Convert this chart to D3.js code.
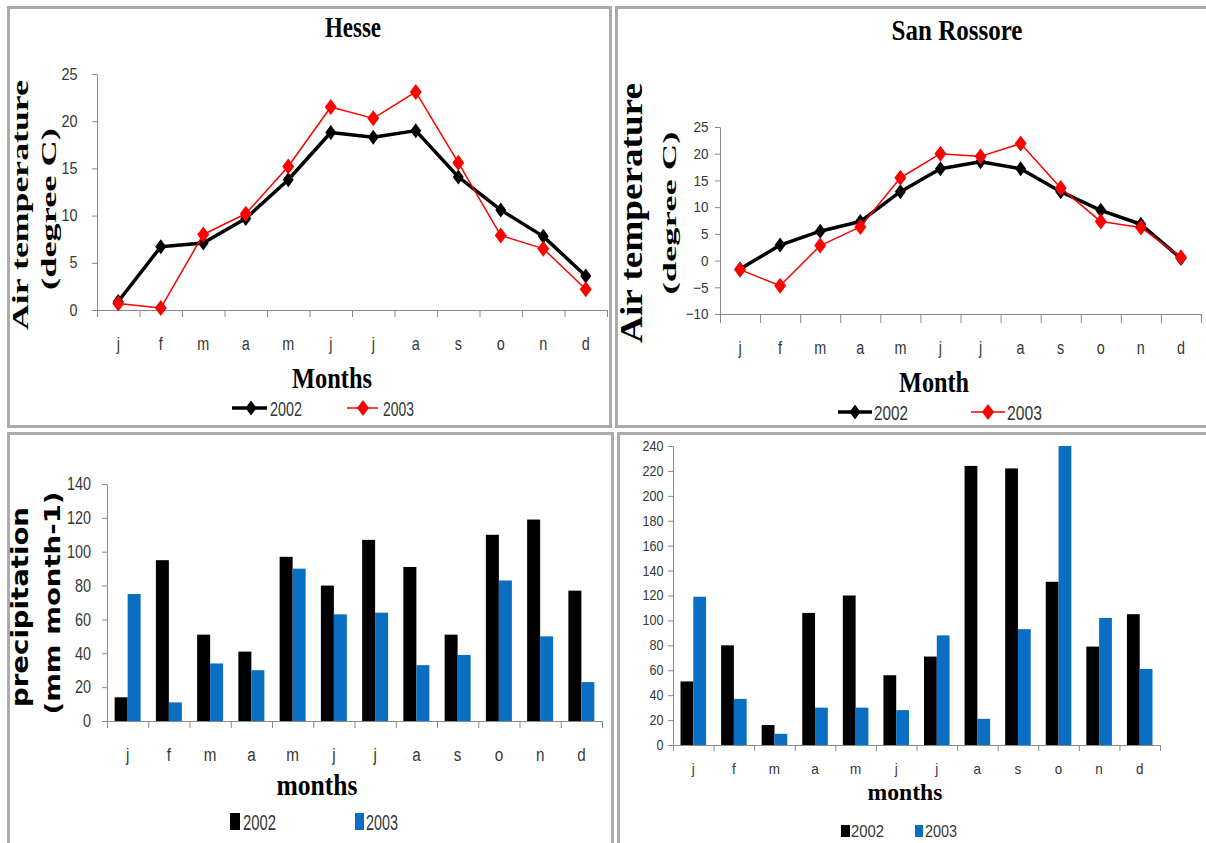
<!DOCTYPE html>
<html>
<head>
<meta charset="utf-8">
<script src="https://cdn.jsdelivr.net/npm/d3@7"></script>
<style>
  body { margin: 0; background: #fff; }
  svg { display: block; }
</style>
</head>
<body>
<div id="fig"></div>
<script>
// ---------------- data ----------------
var months = ["j", "f", "m", "a", "m", "j", "j", "a", "s", "o", "n", "d"];
var years = ["2002", "2003"];

// air temperature (degree C)
var hesseTemp2002 = [0.9, 6.7, 7.1, 9.7, 13.8, 18.8, 18.3, 19.0, 14.1, 10.6, 7.8, 3.6];
var hesseTemp2003 = [0.7, 0.2, 8.0, 10.2, 15.2, 21.5, 20.3, 23.1, 15.6, 7.9, 6.5, 2.2];
var sanRossoreTemp2002 = [-1.6, 2.9, 5.5, 7.3, 12.9, 17.2, 18.5, 17.2, 12.9, 9.4, 6.8, 0.4];
var sanRossoreTemp2003 = [-1.7, -4.7, 2.8, 6.3, 15.5, 20.0, 19.5, 21.9, 13.6, 7.3, 6.2, 0.6];

// precipitation (mm month-1)
var hessePrecip2002 = [14, 95, 51, 41, 97, 80, 107, 91, 51, 110, 119, 77];
var hessePrecip2003 = [75, 11, 34, 30, 90, 63, 64, 33, 39, 83, 50, 23];
var sanRossorePrecip2002 = [51, 80, 16, 106, 120, 56, 71, 224, 222, 131, 79, 105];
var sanRossorePrecip2003 = [119, 37, 9, 30, 30, 28, 88, 21, 93, 240, 102, 61];

// axis ticks
var hesseTempTicks = [0, 5, 10, 15, 20, 25];
var sanRossoreTempTicks = [-10, -5, 0, 5, 10, 15, 20, 25];
var hessePrecipTicks = [0, 20, 40, 60, 80, 100, 120, 140];
var sanRossorePrecipTicks = [0, 20, 40, 60, 80, 100, 120, 140, 160, 180, 200, 220, 240];

// ---------------- setup ----------------
var textColor = "#363636";
var axisColor = "#8a8a8a";
var blue = "#0a6fc2";
var serif = "'Liberation Serif', 'Times New Roman', serif";
var sans = "'Liberation Sans', Arial, sans-serif";

var svg = d3.select("#fig").append("svg")
    .attr("width", 1206)
    .attr("height", 843);

svg.append("rect").attr("width", 1206).attr("height", 843).attr("fill", "#fff");

// gray panel frames
[[8.5, 7.5, 602, 419], [616.5, 7.5, 600, 419], [8.5, 433.5, 604, 420], [618.5, 433.5, 600, 420]]
    .forEach(function (f) {
        svg.append("rect")
            .attr("x", f[0]).attr("y", f[1]).attr("width", f[2]).attr("height", f[3])
            .attr("fill", "none").attr("stroke", "#ababab").attr("stroke-width", 3);
    });

// text helper: squeezes glyphs horizontally like the (compressed) original figure
function label(parent, str, o) {
    var t = parent.append("text").text(str)
        .attr("font-family", o.family || serif)
        .attr("font-weight", o.weight || "bold")
        .attr("font-size", o.size)
        .attr("fill", o.fill || "#000")
        .attr("text-anchor", o.anchor || "middle");
    if (o.rotate) {
        // fit the text length, then squeeze glyph height (screen x)
        var natural = t.node().getComputedTextLength();
        t.attr("font-size", o.size * o.length / natural);
        t.attr("transform", "translate(" + o.x + "," + o.y + ") rotate(-90) scale(1," + o.squeeze + ")");
    } else {
        var sx = o.width ? o.width / t.node().getComputedTextLength() : (o.squeeze || 1);
        t.attr("transform", "translate(" + o.x + "," + o.y + ") scale(" + sx + ",1)");
    }
    return t;
}

function styleAxis(sel, size, sx) {
    sel.select(".domain").attr("stroke", axisColor);
    sel.selectAll(".tick line").attr("stroke", axisColor);
    sel.selectAll(".tick text")
        .attr("font-family", sans)
        .attr("font-size", size)
        .attr("fill", textColor)
        .attr("transform", "scale(" + sx + ",1)");
}

// shared axes for both chart types
function drawAxes(g, o, x, y) {
    var edges = d3.scaleLinear().domain([0, 12]).range([o.left, o.right]);

    g.append("g")
        .attr("transform", "translate(" + o.left + ",0)")
        .call(d3.axisLeft(y).tickValues(o.ticks).tickSize(5).tickSizeOuter(0).tickPadding(o.yPad / o.ySx))
        .call(styleAxis, o.ySize, o.ySx);

    g.append("g")
        .attr("transform", "translate(0," + o.bottom + ")")
        .call(d3.axisBottom(edges).tickValues(d3.range(13)).tickSize(o.xTick).tickSizeOuter(0).tickFormat(""))
        .call(styleAxis, o.xSize, 1);

    var lab = g.append("g")
        .attr("transform", "translate(0," + o.bottom + ")")
        .call(d3.axisBottom(x).tickSize(0).tickPadding(o.xPad).tickFormat(function (i) { return months[i]; }))
        .call(styleAxis, o.xSize, o.xSx);
    lab.select(".domain").remove();
}

function diamond(w, h) {
    return "M0," + (-h) + "L" + w + ",0L0," + h + "L" + (-w) + ",0Z";
}

// ---------------- line charts ----------------
function lineChart(o) {
    var g = svg.append("g");
    var x = d3.scaleBand().domain(d3.range(12)).range([o.left, o.right]);
    var y = d3.scaleLinear().domain(o.domain).range([o.bottom, o.top]);
    drawAxes(g, o, x, y);

    var line = d3.line()
        .x(function (d, i) { return x(i) + x.bandwidth() / 2; })
        .y(function (d) { return y(d); });

    var series = [
        { values: o.s2002, color: "#000", width: 3.5, mark: diamond(5.5, 7.5) },
        { values: o.s2003, color: "#ff0000", width: 1.5, mark: diamond(6, 8) }
    ];
    series.forEach(function (s) {
        g.append("path").datum(s.values)
            .attr("d", line)
            .attr("fill", "none")
            .attr("stroke", s.color)
            .attr("stroke-width", s.width)
            .attr("stroke-linejoin", "round");
        g.selectAll(null).data(s.values).enter().append("path")
            .attr("d", s.mark)
            .attr("fill", s.color)
            .attr("transform", function (d, i) {
                return "translate(" + (x(i) + x.bandwidth() / 2) + "," + y(d) + ")";
            });
    });

    // legend
    o.legend.forEach(function (l, k) {
        var s = series[k];
        g.append("line")
            .attr("x1", l.x0).attr("x2", l.x1).attr("y1", o.legendY).attr("y2", o.legendY)
            .attr("stroke", s.color).attr("stroke-width", s.width);
        g.append("path").attr("d", s.mark).attr("fill", s.color)
            .attr("transform", "translate(" + l.mark + "," + o.legendY + ")");
        label(g, years[k], { x: l.text, y: o.legendY + 8, size: 20, family: sans, weight: "normal",
            fill: textColor, anchor: "start", width: l.width });
    });
    return g;
}

// ---------------- bar charts ----------------
function barChart(o) {
    var g = svg.append("g");
    var x = d3.scaleBand().domain(d3.range(12)).range([o.left, o.right]);
    var pair = x.bandwidth() * 0.63;
    var x1 = d3.scaleBand().domain(years).range([0, pair]);
    var y = d3.scaleLinear().domain(o.domain).range([o.bottom, o.top]);

    var rows = months.map(function (m, i) {
        return [{ year: "2002", i: i, v: o.s2002[i] }, { year: "2003", i: i, v: o.s2003[i] }];
    });
    var color = d3.scaleOrdinal().domain(years).range(["#000", blue]);

    g.selectAll(".grp").data(rows).enter().append("g")
        .attr("transform", function (d, i) {
            return "translate(" + (x(i) + (x.bandwidth() - pair) / 2) + ",0)";
        })
        .selectAll("rect").data(function (d) { return d; }).enter().append("rect")
        .attr("x", function (d) { return x1(d.year); })
        .attr("width", x1.bandwidth())
        .attr("y", function (d) { return y(d.v); })
        .attr("height", function (d) { return y(0) - y(d.v); })
        .attr("fill", function (d) { return color(d.year); });

    drawAxes(g, o, x, y);

    o.legend.forEach(function (l, k) {
        g.append("rect")
            .attr("x", l.rect).attr("y", o.legendY - l.h).attr("width", l.w).attr("height", l.h)
            .attr("fill", color(years[k]));
        label(g, years[k], { x: l.text, y: o.legendY, size: o.legendSize, family: sans, weight: "normal",
            fill: textColor, anchor: "start", width: l.width });
    });
    return g;
}

// ---------------- panels ----------------
var gA = lineChart({
    left: 97, right: 607, top: 74, bottom: 310, domain: [0, 25], ticks: hesseTempTicks,
    s2002: hesseTemp2002, s2003: hesseTemp2003,
    yPad: 15, ySize: 16, ySx: 0.9, xTick: 7, xPad: 27, xSize: 18, xSx: 0.8,
    legendY: 408,
    legend: [{ x0: 232, x1: 267, mark: 251, text: 270, width: 32 },
             { x0: 347, x1: 378, mark: 363, text: 383, width: 31 }]
});
label(gA, "Hesse", { x: 353, y: 37, size: 30, width: 56 });
label(gA, "Months", { x: 332, y: 388, size: 30, width: 80 });
label(gA, "Air temperature", { x: 28, y: 205, size: 35, rotate: true, length: 250, squeeze: 0.67 });
label(gA, "(degree C)", { x: 56, y: 209, size: 35, rotate: true, length: 162, squeeze: 0.55 });

var gB = lineChart({
    left: 720, right: 1201, top: 127, bottom: 314, domain: [-10, 25], ticks: sanRossoreTempTicks,
    s2002: sanRossoreTemp2002, s2003: sanRossoreTemp2003,
    yPad: 7, ySize: 15, ySx: 0.9, xTick: 9, xPad: 27, xSize: 18, xSx: 0.8,
    legendY: 412,
    legend: [{ x0: 838, x1: 872, mark: 855, text: 874, width: 34 },
             { x0: 971, x1: 1005, mark: 988, text: 1007, width: 35 }]
});
label(gB, "San Rossore", { x: 957, y: 40, size: 30, width: 131 });
label(gB, "Month", { x: 934, y: 392, size: 30, width: 70 });
label(gB, "Air temperature", { x: 642, y: 213, size: 36, rotate: true, length: 260, squeeze: 0.83 });
label(gB, "(degree C)", { x: 676, y: 213, size: 36, rotate: true, length: 163, squeeze: 0.52 });

var gC = barChart({
    left: 107, right: 602, top: 484, bottom: 721, domain: [0, 140], ticks: hessePrecipTicks,
    s2002: hessePrecip2002, s2003: hessePrecip2003,
    yPad: 12, ySize: 18, ySx: 0.8, xTick: 7, xPad: 27, xSize: 19, xSx: 0.8,
    legendY: 830, legendSize: 22,
    legend: [{ rect: 230, w: 10, h: 17, text: 243, width: 33 },
             { rect: 355, w: 9, h: 17, text: 366, width: 32 }]
});
label(gC, "months", { x: 317, y: 795, size: 29, width: 81 });
label(gC, "precipitation", { x: 28, y: 607, size: 28, family: "'DejaVu Sans', sans-serif",
    rotate: true, length: 200, squeeze: 0.85 });
label(gC, "(mm month-1)", { x: 60, y: 603, size: 28, family: "'DejaVu Sans', sans-serif",
    rotate: true, length: 223, squeeze: 0.75 });

var gD = barChart({
    left: 673, right: 1160, top: 446, bottom: 745, domain: [0, 240], ticks: sanRossorePrecipTicks,
    s2002: sanRossorePrecip2002, s2003: sanRossorePrecip2003,
    yPad: 5, ySize: 14, ySx: 0.9, xTick: 6, xPad: 18, xSize: 15, xSx: 0.9,
    legendY: 837, legendSize: 16,
    legend: [{ rect: 841, w: 9, h: 12, text: 851, width: 33 },
             { rect: 915, w: 8, h: 12, text: 925, width: 32 }]
});
label(gD, "months", { x: 905, y: 800, size: 23, width: 75 });
</script>
</body>
</html>
